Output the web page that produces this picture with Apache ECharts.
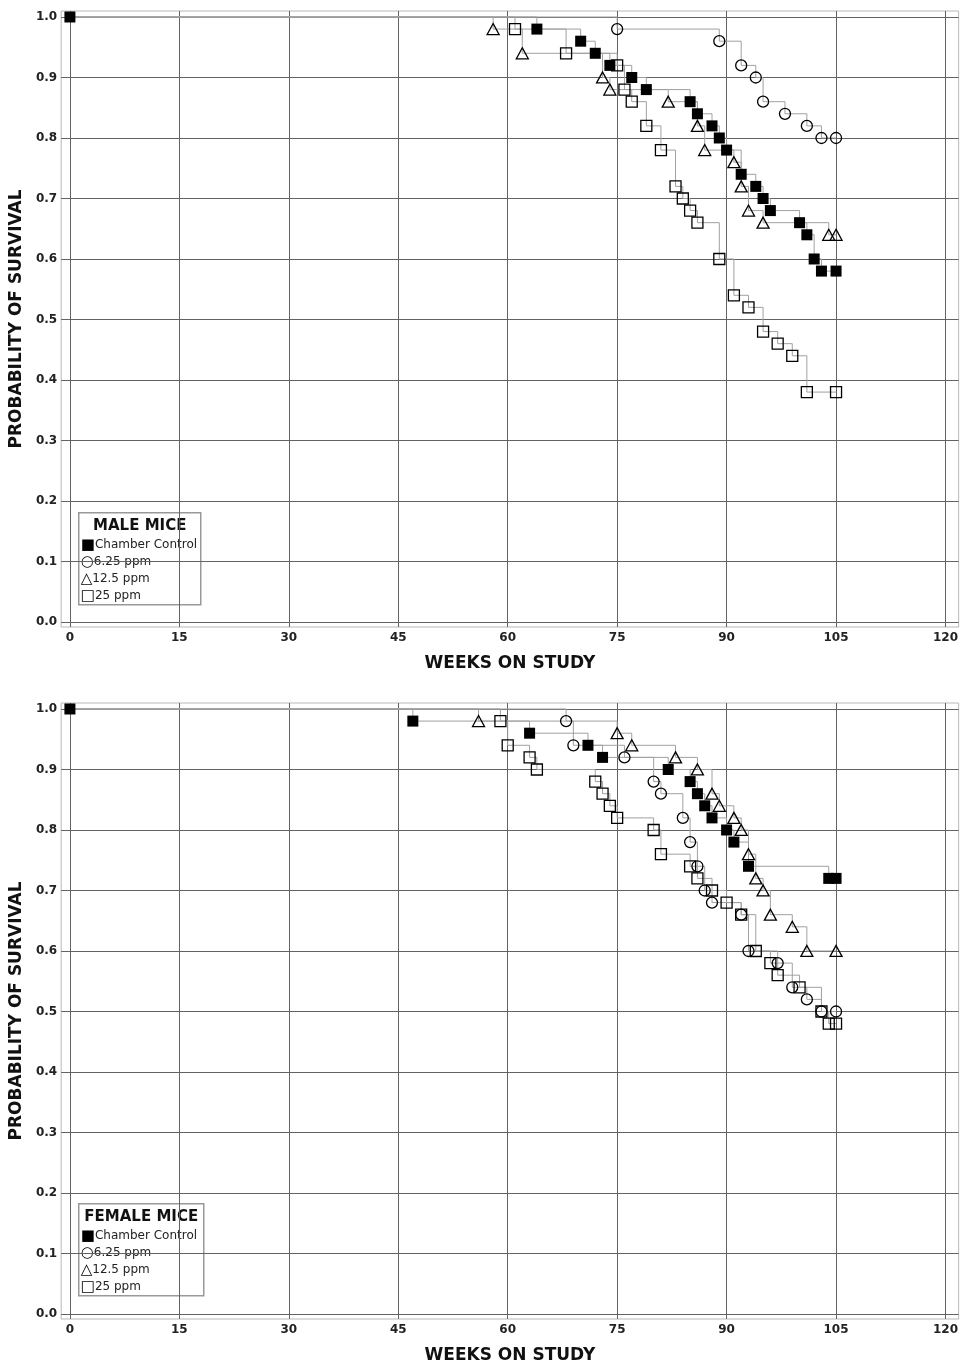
<!DOCTYPE html>
<html>
<head>
<meta charset="utf-8">
<script src="https://cdn.jsdelivr.net/npm/echarts@6/dist/echarts.min.js"></script>
<style>
html, body { margin: 0; padding: 0; background: #fff; }
#chart { width: 961px; height: 1365px; }
</style>
</head>
<body>
<div id="chart"></div>
<script>
// axis ticks
var weekTicks = [0, 15, 30, 45, 60, 75, 90, 105, 120];
var survTicks = [0, 0.1, 0.2, 0.3, 0.4, 0.5, 0.6, 0.7, 0.8, 0.9, 1.0];

var groupNames = ['Chamber Control', '6.25 ppm', '12.5 ppm', '25 ppm'];
var groupGlyphs = ['\u25A0', '\u25CB', '\u25B3', '\u25A1'];
var panelTitles = ['MALE MICE', 'FEMALE MICE'];

// [week, probability of survival]
var maleControl = [[0, 1.0], [64, 0.98], [70, 0.96], [72, 0.94], [74, 0.92], [77, 0.90], [79, 0.88],
	[85, 0.86], [86, 0.84], [88, 0.82], [89, 0.80], [90, 0.78], [92, 0.74], [94, 0.72], [95, 0.70],
	[96, 0.68], [100, 0.66], [101, 0.64], [102, 0.60], [103, 0.58], [105, 0.58]];
var male625 = [[0, 1.0], [75, 0.98], [89, 0.96], [92, 0.92], [94, 0.90], [95, 0.86], [98, 0.84],
	[101, 0.82], [103, 0.80], [105, 0.80]];
var male125 = [[0, 1.0], [58, 0.98], [62, 0.94], [73, 0.90], [74, 0.88], [82, 0.86], [86, 0.82],
	[87, 0.78], [91, 0.76], [92, 0.72], [93, 0.68], [95, 0.66], [104, 0.64], [105, 0.64]];
var male25 = [[0, 1.0], [61, 0.98], [68, 0.94], [75, 0.92], [76, 0.88], [77, 0.86], [79, 0.82],
	[81, 0.78], [83, 0.72], [84, 0.70], [85, 0.68], [86, 0.66], [89, 0.60], [91, 0.54], [93, 0.52],
	[95, 0.48], [97, 0.46], [99, 0.44], [101, 0.38], [105, 0.38]];

var femaleControl = [[0, 1.0], [47, 0.98], [63, 0.96], [71, 0.94], [73, 0.92], [82, 0.90], [85, 0.88],
	[86, 0.86], [87, 0.84], [88, 0.82], [90, 0.80], [91, 0.78], [93, 0.74], [104, 0.72], [105, 0.72]];
var female625 = [[0, 1.0], [68, 0.98], [69, 0.94], [76, 0.92], [80, 0.88], [81, 0.86], [84, 0.82],
	[85, 0.78], [86, 0.74], [87, 0.70], [88, 0.68], [92, 0.66], [93, 0.60], [97, 0.58], [99, 0.54],
	[101, 0.52], [103, 0.50], [105, 0.50]];
var female125 = [[0, 1.0], [56, 0.98], [75, 0.96], [77, 0.94], [83, 0.92], [86, 0.90], [88, 0.86],
	[89, 0.84], [91, 0.82], [92, 0.80], [93, 0.76], [94, 0.72], [95, 0.70], [96, 0.66], [99, 0.64],
	[101, 0.60], [105, 0.60]];
var female25 = [[0, 1.0], [59, 0.98], [60, 0.94], [63, 0.92], [64, 0.90], [72, 0.88], [73, 0.86],
	[74, 0.84], [75, 0.82], [80, 0.80], [81, 0.76], [85, 0.74], [86, 0.72], [88, 0.70], [90, 0.68],
	[92, 0.66], [94, 0.60], [96, 0.58], [97, 0.56], [100, 0.54], [103, 0.50], [104, 0.48], [105, 0.48]];

var panels = [
	[maleControl, male625, male125, male25],
	[femaleControl, female625, female125, female25]
];

var FONT = 'DejaVu Sans';
var gridTops = [11, 703];
var gridHeight = 616;

var markerSymbols = ['rect', 'circle', 'triangle', 'rect'];
var markerSizes = [11, 11, [12, 11], 11];

function buildSeries(){
	var series = [];
	panels.forEach(function(groups, g){
		groups.forEach(function(data, i){
			series.push({
				type: 'line',
				xAxisIndex: g,
				yAxisIndex: g,
				data: data,
				step: 'end',
				symbol: 'none',
				silent: true,
				z: 2,
				lineStyle: { color: '#a0a0a0', width: 1 }
			});
			series.push({
				type: 'scatter',
				xAxisIndex: g,
				yAxisIndex: g,
				// start point only marked for the control group
				data: data.map(function(p, k){
					return (k === 0 && i > 0) ? { value: p, symbol: 'none' } : p;
				}),
				symbol: markerSymbols[i],
				symbolSize: markerSizes[i],
				silent: true,
				z: 3,
				itemStyle: i === 0
					? { color: '#000', opacity: 1 }
					: { color: 'transparent', borderColor: '#000', borderWidth: 1.3, opacity: 1 }
			});
		});
	});
	return series;
}

function buildLegend(g){
	var top = g === 0 ? 512 : 1203;
	var width = g === 0 ? 122 : 125;
	var children = [{
		type: 'rect',
		shape: { x: 0, y: 0, width: width, height: 92 },
		style: { fill: '#fff', stroke: '#999', lineWidth: 1.5 }
	}, {
		type: 'text',
		x: width / 2, y: 13,
		style: { text: panelTitles[g], fontFamily: FONT, fontWeight: 'bold', fontSize: 15,
			fill: '#111', align: 'center', verticalAlign: 'middle' }
	}];
	groupNames.forEach(function(name, i){
		children.push({
			type: 'text',
			x: 2, y: 32 + i * 17,
			style: {
				text: '{g|' + groupGlyphs[i] + '}' + name,
				fontFamily: FONT, fontSize: 12, fill: '#222', verticalAlign: 'middle',
				rich: { g: { fontFamily: FONT, fontSize: 15, fill: '#000' } }
			}
		});
	});
	return { type: 'group', left: 78, top: top, z: 10, children: children };
}

var chart = echarts.init(document.getElementById('chart'));
chart.setOption({
	animation: false,
	backgroundColor: '#fff',
	grid: gridTops.map(function(t){
		return { left: 60, width: 899, top: t, height: gridHeight, show: true,
			borderColor: '#b8b8b8', borderWidth: 1 };
	}),
	xAxis: gridTops.map(function(t, g){
		return {
			gridIndex: g, type: 'value', min: -1.2, max: 121.8,
			name: 'WEEKS ON STUDY', nameLocation: 'middle', nameGap: 28,
			nameTextStyle: { fontFamily: FONT, fontWeight: 'bold', fontSize: 17, color: '#111' },
			axisLine: { show: false },
			axisTick: { show: true, customValues: weekTicks, length: 3, lineStyle: { color: '#666' } },
			axisLabel: { customValues: weekTicks, fontFamily: FONT, fontWeight: 'bold', fontSize: 12,
				color: '#222', margin: 5 },
			splitLine: { show: true, lineStyle: { color: '#626262', width: 1 } }
		};
	}),
	yAxis: gridTops.map(function(t, g){
		return {
			gridIndex: g, type: 'value', min: -0.0083, max: 1.0099,
			name: 'PROBABILITY OF SURVIVAL', nameLocation: 'middle', nameGap: 35,
			nameTextStyle: { fontFamily: FONT, fontWeight: 'bold', fontSize: 17, color: '#111' },
			axisLine: { show: false },
			axisTick: { show: true, customValues: survTicks, length: 3, lineStyle: { color: '#666' } },
			axisLabel: { customValues: survTicks, fontFamily: FONT, fontWeight: 'bold', fontSize: 12,
				color: '#222', margin: 4, formatter: function(v){ return v.toFixed(1); } },
			splitLine: { show: true, lineStyle: { color: '#626262', width: 1 } }
		};
	}),
	graphic: [buildLegend(0), buildLegend(1)],
	series: buildSeries()
});
</script>
</body>
</html>
